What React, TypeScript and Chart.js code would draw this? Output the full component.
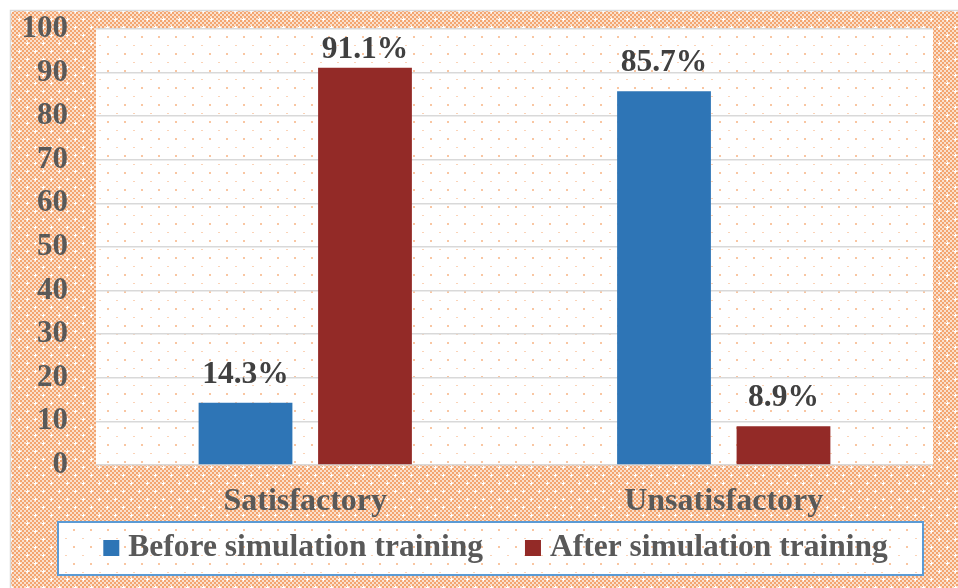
import React, { useEffect, useRef } from "react";
import { Chart, registerables } from "chart.js";

Chart.register(...registerables);

const categories = ["Satisfactory", "Unsatisfactory"];
const beforeValues = [14.3, 85.7];
const afterValues = [91.1, 8.9];
const seriesLabels = ["Before simulation training", "After simulation training"];
const seriesColors = ["#2E75B6", "#932A27"];
const yMin = 0;
const yMax = 100;
const yStep = 10;

const FONT = "'Liberation Serif', 'Times New Roman', Times, serif";

function makeFramePattern(): CanvasPattern | string {
  const c = document.createElement("canvas");
  c.width = 16;
  c.height = 16;
  const g = c.getContext("2d");
  if (!g) return "#f6c3a1";
  for (let y = 0; y < 16; y += 2) {
    for (let x = 0; x < 16; x += 2) {
      g.fillStyle = ((x + y) / 2) % 2 === 0 ? "#f3a570" : "#fbe0cc";
      g.fillRect(x, y, 2, 2);
    }
  }
  g.fillStyle = "#ffffff";
  g.fillRect(3, 2, 1, 3);
  g.fillRect(2, 3, 3, 1);
  g.fillRect(11, 10, 1, 3);
  g.fillRect(10, 11, 3, 1);
  const ctx = document.createElement("canvas").getContext("2d");
  return ctx ? (ctx.createPattern(c, "repeat") as CanvasPattern) : "#f6c3a1";
}

function makeDotPattern(): CanvasPattern | string {
  const c = document.createElement("canvas");
  c.width = 17;
  c.height = 17;
  const g = c.getContext("2d");
  if (!g) return "#ffffff";
  g.fillStyle = "#ffffff";
  g.fillRect(0, 0, 17, 17);
  g.fillStyle = "#f9c6a2";
  g.fillRect(5, 2, 2, 2);
  g.fillStyle = "#fbd3b7";
  g.fillRect(14, 11, 2, 1);
  const ctx = document.createElement("canvas").getContext("2d");
  return ctx ? (ctx.createPattern(c, "repeat") as CanvasPattern) : "#ffffff";
}

export default function App() {
  const canvasRef = useRef<HTMLCanvasElement | null>(null);

  useEffect(() => {
    const canvas = canvasRef.current;
    if (!canvas) return;
    const framePattern = makeFramePattern();
    const dotPattern = makeDotPattern();

    const backgroundPlugin = {
      id: "bgPatterns",
      beforeDraw(chart: any) {
        const { ctx, width, height, chartArea } = chart;
        ctx.save();
        ctx.fillStyle = "#ffffff";
        ctx.fillRect(0, 0, width, height);
        ctx.fillStyle = framePattern;
        ctx.fillRect(10, 10, width, height);
        ctx.strokeStyle = "#d9d9d9";
        ctx.lineWidth = 1.5;
        ctx.strokeRect(10.5, 10.5, width + 20, height + 20);
        ctx.fillStyle = dotPattern;
        ctx.fillRect(chartArea.left, chartArea.top, chartArea.right - chartArea.left, chartArea.bottom - chartArea.top);
        ctx.restore();
      },
    };

    const dataLabelPlugin = {
      id: "valueLabels",
      afterDatasetsDraw(chart: any) {
        const { ctx, chartArea } = chart;
        ctx.save();
        ctx.font = `bold 31.5px ${FONT}`;
        ctx.fillStyle = "#404040";
        ctx.textAlign = "center";
        ctx.textBaseline = "alphabetic";
        chart.data.datasets.forEach((ds: any, di: number) => {
          const meta = chart.getDatasetMeta(di);
          meta.data.forEach((bar: any, i: number) => {
            const v = ds.data[i];
            const y = Math.max(bar.y - 20, chartArea.top + 29);
            ctx.fillText(`${v}%`, bar.x, y);
          });
        });
        ctx.restore();
      },
    };

    const boxLegendPlugin = {
      id: "boxLegend",
      afterDraw(chart: any) {
        const { ctx, chartArea } = chart;
        const xs = chart.scales.x;
        const left = chartArea.left - 38;
        const right = chartArea.right - 10;
        const top = xs.bottom;
        const h = 53;
        ctx.save();
        ctx.fillStyle = dotPattern;
        ctx.fillRect(left, top, right - left, h);
        ctx.strokeStyle = "#5B9BD5";
        ctx.lineWidth = 2;
        ctx.strokeRect(left, top, right - left, h);
        ctx.font = `bold 31.5px ${FONT}`;
        const box = 16;
        const gapBT = 9;
        const gapItems = 42;
        const items = chart.data.datasets.map((ds: any) => ({
          label: ds.label as string,
          color: ds.backgroundColor as string,
          w: ctx.measureText(ds.label).width,
        }));
        const total =
          items.reduce((s: number, it: any) => s + box + gapBT + it.w, 0) + gapItems * (items.length - 1);
        let x = (left + right) / 2 - total / 2 + 5;
        const cy = top + 26;
        ctx.textBaseline = "middle";
        ctx.textAlign = "left";
        items.forEach((it: any) => {
          ctx.fillStyle = it.color;
          ctx.fillRect(x, cy - 8, box, box);
          ctx.fillStyle = "#595959";
          ctx.fillText(it.label, x + box + gapBT, cy);
          x += box + gapBT + it.w + gapItems;
        });
        ctx.restore();
      },
    };

    const chart = new Chart(canvas, {
      type: "bar",
      data: {
        labels: categories,
        datasets: [
          {
            label: seriesLabels[0],
            data: beforeValues,
            backgroundColor: seriesColors[0],
            categoryPercentage: 0.571,
            barPercentage: 0.785,
          },
          {
            label: seriesLabels[1],
            data: afterValues,
            backgroundColor: seriesColors[1],
            categoryPercentage: 0.571,
            barPercentage: 0.785,
          },
        ],
      },
      options: {
        responsive: false,
        animation: false,
        layout: { padding: { left: 10, top: 29, right: 25, bottom: 66 } },
        plugins: {
          legend: { display: false },
          tooltip: { enabled: false },
        },
        scales: {
          x: {
            grid: { display: false, drawTicks: false },
            border: { display: false },
            ticks: {
              color: "#595959",
              font: { family: FONT, size: 32, weight: "bold" },
              padding: 18,
            },
            afterFit(scale: any) {
              scale.height = 57;
              scale.paddingLeft = 0;
              scale.paddingRight = 0;
            },
          },
          y: {
            min: yMin,
            max: yMax,
            grid: { color: "#d9d9d9", lineWidth: 1.5, drawTicks: false },
            border: { display: false },
            ticks: {
              stepSize: yStep,
              color: "#595959",
              font: { family: FONT, size: 31, weight: "bold" },
              padding: 28,
            },
            afterFit(scale: any) {
              scale.width = 86;
              scale.paddingTop = 0;
              scale.paddingBottom = 0;
            },
          },
        },
      },
      plugins: [backgroundPlugin, dataLabelPlugin, boxLegendPlugin],
    } as any);

    return () => {
      chart.destroy();
    };
  }, []);

  return (
    <div style={{ position: "fixed", left: 0, top: 0, width: 958, height: 588 }}>
      <canvas ref={canvasRef} width={958} height={588} style={{ display: "block" }} />
    </div>
  );
}
